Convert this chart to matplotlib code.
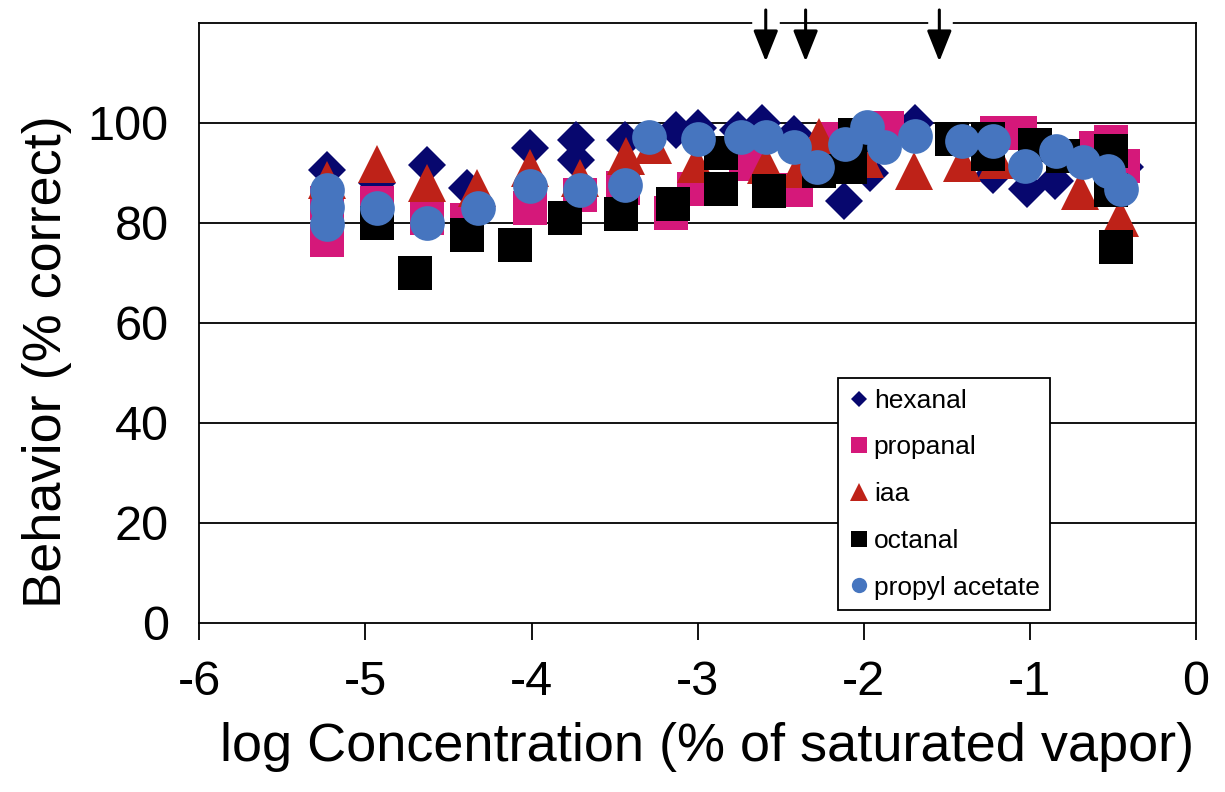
import numpy as np
import matplotlib.pyplot as plt
from matplotlib.lines import Line2D

plt.rcParams['font.family'] = ['Liberation Sans', 'DejaVu Sans']
plt.rcParams['axes.unicode_minus'] = False

# values (x = log concentration, y = % correct)
hexanal_x = [-5.23, -4.93, -4.63, -4.39, -4.01, -3.73, -3.73, -3.44, -3.13, -3.00,
             -2.76, -2.61, -2.42, -2.12, -1.96, -1.69, -1.22, -1.02, -0.85, -0.43]
hexanal_y = [90.5, 88, 91.5, 87, 95, 96.5, 92.5, 96.5, 98.6, 99,
             98.6, 100, 97.8, 84.4, 90, 100, 89.6, 86.8, 88.4, 91.2]

propanal_x = [-5.23, -5.23, -4.93, -4.63, -4.39, -4.01, -3.71, -3.45, -3.16, -3.02,
              -2.71, -2.41, -2.17, -2.02, -1.86, -1.20, -1.06, -0.60, -0.51, -0.44]
propanal_y = [76.6, 84, 84, 81, 80.6, 83, 85.5, 87, 82, 86.8,
              91.8, 86.6, 96.8, 92.8, 99, 98, 98, 95, 96.2, 91.4]

iaa_x = [-5.23, -4.93, -4.63, -4.33, -4.01, -3.71, -3.43, -3.27, -3.01, -2.59,
         -2.39, -2.27, -1.99, -1.70, -1.41, -1.20, -0.70, -0.46]
iaa_y = [88.5, 91.8, 88, 87, 91, 89, 93.4, 95.5, 91.8, 91.6,
         90.8, 97.2, 92.8, 90.4, 92, 92.5, 86.4, 81]

octanal_x = [-4.93, -4.70, -4.39, -4.10, -3.80, -3.46, -3.15, -2.86, -2.86, -2.57,
             -2.27, -2.08, -2.05, -1.47, -1.25, -1.25, -0.97, -0.80, -0.51, -0.51, -0.48]
octanal_y = [80, 70, 77.6, 75.6, 81, 81.8, 83.8, 94, 86.8, 86.4,
             90.4, 91.2, 97.6, 96.8, 96.8, 93.8, 95.6, 93.4, 94.4, 86.6, 75.1]

propyl_x = [-5.23, -5.23, -5.23, -4.93, -4.63, -4.32, -4.01, -3.71, -3.44, -3.29,
            -3.00, -2.74, -2.59, -2.42, -2.28, -2.11, -1.98, -1.88, -1.69, -1.41,
            -1.22, -1.03, -0.84, -0.68, -0.53, -0.45]
propyl_y = [86.6, 83.2, 79.8, 83, 80, 83, 87.4, 86.6, 87.6, 97.2,
            96.8, 97.2, 97.2, 95.2, 91.2, 95.8, 99.2, 95.2, 97.4, 96.4,
            96.4, 91.4, 94.4, 92.2, 90.4, 86.8]

arrow_x = [-2.59, -2.35, -1.545]

navy = '#07076E'
pink = '#D5187A'
red = '#BE2218'
blue = '#4675BF'

fig = plt.figure(figsize=(12.25, 7.92), dpi=100)
ax = fig.add_axes([0.1627, 0.2138, 0.8136, 0.7572])

ax.plot(hexanal_x, hexanal_y, 'D', ms=19.5, color=navy, mew=0, label='hexanal')
ax.plot(propanal_x, propanal_y, 's', ms=25, color=pink, mew=0, label='propanal')
ax.plot(iaa_x, iaa_y, '^', ms=27, color=red, mew=0, label='iaa')
ax.plot(octanal_x, octanal_y, 's', ms=25, color='black', mew=0, label='octanal')
ax.plot(propyl_x, propyl_y, 'o', ms=25, color=blue, mew=0, label='propyl acetate')

ax.set_xlim(-6, 0)
ax.set_ylim(0, 120)
ax.set_xticks(range(-6, 1))
ax.set_yticks(range(0, 101, 20))
for yv in range(20, 101, 20):
    ax.axhline(yv, color='black', lw=1.3, zorder=0.5)

for s in ax.spines.values():
    s.set_linewidth(1.3)
ax.tick_params(axis='x', direction='out', length=12, width=1.3, labelsize=35, pad=15)
ax.tick_params(axis='y', length=0, labelsize=35, pad=22)

ax.set_xlabel('log Concentration (% of saturated vapor)', fontsize=39)
ax.set_ylabel('Behavior (% correct)', fontsize=39)
ax.xaxis.set_label_coords(0.509, -0.165)
ax.yaxis.set_label_coords(-0.128, 0.435)

# gaps in the top border behind two of the arrows
for x0, x1 in [(-2.652, -2.524), (-1.598, -1.478)]:
    ax.plot([x0, x1], [120, 120], color='white', lw=4, clip_on=False, zorder=3)
for xa in arrow_x:
    ax.annotate('', xy=(xa, 112.3), xytext=(xa, 122.6), annotation_clip=False,
                arrowprops=dict(arrowstyle='-|>,head_length=0.95,head_width=0.38',
                                lw=2.2, color='black', mutation_scale=20,
                                shrinkA=0, shrinkB=0), zorder=4)

handles = [
    Line2D([], [], ls='none', marker='D', ms=8, color=navy, mew=0),
    Line2D([], [], ls='none', marker='s', ms=11, color=pink, mew=0),
    Line2D([], [], ls='none', marker='^', ms=13, color=red, mew=0),
    Line2D([], [], ls='none', marker='s', ms=11, color='black', mew=0),
    Line2D([], [], ls='none', marker='o', ms=11, color=blue, mew=0),
]
labels = ['hexanal', 'propanal', 'iaa', 'octanal', 'propyl acetate']
leg = ax.legend(handles, labels, loc='lower left', bbox_to_anchor=(0.641, 0.021),
                fontsize=19, frameon=True, fancybox=False, framealpha=1,
                edgecolor='black', borderpad=0.4, labelspacing=0.86,
                handlelength=0.75, handletextpad=0.2, borderaxespad=0)
leg.get_frame().set_linewidth(1.3)

fig.savefig('out.png', dpi=100)
